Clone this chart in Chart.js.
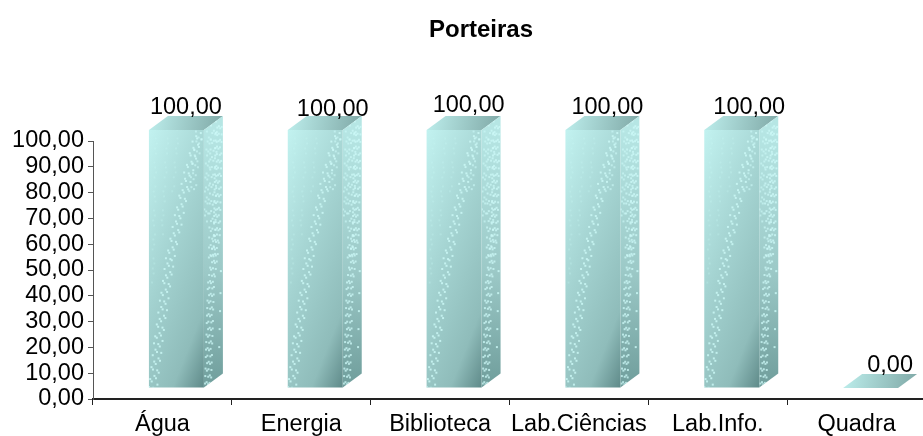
<!DOCTYPE html>
<html>
<head>
<meta charset="utf-8">
<script src="https://cdn.jsdelivr.net/npm/chart.js@4"></script>
<style>
  html, body { margin: 0; padding: 0; background: #fff; overflow: hidden; width: 923px; height: 436px; }
  #wrap { position: relative; width: 926px; height: 436px; }
</style>
</head>
<body>
<div id="wrap"><canvas id="porteirasChart" width="926" height="436"></canvas></div>
<script>
const categories = ['Água', 'Energia', 'Biblioteca', 'Lab.Ciências', 'Lab.Info.', 'Quadra'];
const values = [100, 100, 100, 100, 100, 0];
const yTicks = [0, 10, 20, 30, 40, 50, 60, 70, 80, 90, 100];

const fontFamily = '"Liberation Sans", Arial, sans-serif';
const fmt = v => v.toFixed(2).replace('.', ',');
const barShare = 0.396;

// where the front face sits compared with the category slot, and the depth of the box
const shift = { x: 14, y: -11 };
const depth = { x: 19, y: -14 };
// value labels do not sit quite regular in the original
const labelNudge = [[0, 0], [8, 2], [5, -2], [5, 0], [8, 0], [10, 0]];

const faceGradient = (ctx, x0, y0, x1, y1, stops) => {
  const g = ctx.createLinearGradient(x0, y0, x1, y1);
  stops.forEach(s => g.addColorStop(s[0], s[1]));
  return g;
};

// light speckle running along a line, the way the texture of the original looks
const speckle = (ctx, pts, spread, step, alpha) => {
  ctx.fillStyle = `rgba(205,250,248,${alpha})`;
  let n = 0;
  for (let i = 0; i < pts.length - 1; i++) {
    const [ax, ay] = pts[i];
    const [bx, by] = pts[i + 1];
    const len = Math.hypot(bx - ax, by - ay);
    for (let d = 0; d < len; d += step) {
      const t = d / len;
      const w = ((n * 7) % 5 - 2) / 2 * spread;
      const off = ((n * 3) % 4) - 1.5;
      ctx.fillRect(ax + (bx - ax) * t + w, ay + (by - ay) * t + off, 2, 2);
      n++;
    }
  }
};

const box3d = {
  id: 'box3d',
  beforeDraw(chart) {
    // the padding on the left only centres the title, the tick labels still need that room
    chart.scales.y.left = 0;
  },
  beforeDatasetDraw(chart) {
    chart.ctx.save();
    chart.ctx.translate(shift.x, shift.y);
  },
  afterDatasetDraw(chart) {
    const ctx = chart.ctx;
    const bars = chart.getDatasetMeta(0).data;
    bars.forEach(bar => {
      const left = bar.x - bar.width / 2;
      const right = bar.x + bar.width / 2;
      const top = bar.y;
      const base = bar.base;

      // top face
      ctx.beginPath();
      ctx.moveTo(left, top);
      ctx.lineTo(left + depth.x, top + depth.y);
      ctx.lineTo(right + depth.x, top + depth.y);
      ctx.lineTo(right, top);
      ctx.closePath();
      ctx.fillStyle = faceGradient(ctx, left, top + depth.y, right + depth.x, top, [[0, '#bdeeec'], [1, '#7fa8a6']]);
      ctx.fill();

      if (base - top < 1) return;
      const h = base - top;

      // right face
      ctx.beginPath();
      ctx.moveTo(right, top);
      ctx.lineTo(right + depth.x, top + depth.y);
      ctx.lineTo(right + depth.x, base + depth.y);
      ctx.lineTo(right, base);
      ctx.closePath();
      ctx.fillStyle = faceGradient(ctx, right, top, right + depth.x, base, [[0, '#b6e6e4'], [0.55, '#9cc9c7'], [1, '#6f9d9b']]);
      ctx.fill();

      ctx.save();
      ctx.clip();
      speckle(ctx, [[right + 14, top - 8], [right + 12, top + h * 0.4], [right + 6, top + h * 0.6], [right + 3, base]], 3, 1.7, 0.75);
      speckle(ctx, [[right + 9, top - 4], [right + 7, top + h * 0.5]], 3, 2.2, 0.7);
      speckle(ctx, [[right + 4, top + 2], [right + 1, top + h * 0.35]], 2, 3, 0.6);
      speckle(ctx, [[right + 16, top + h * 0.55], [right + 14, base - 25]], 0, 19, 0.8);
      ctx.restore();

      // band of light dots across the front face, and the faint streaks at the top left
      ctx.save();
      ctx.beginPath();
      ctx.rect(left, top, bar.width, h);
      ctx.clip();
      speckle(ctx, [[left + 3, base], [left + 9, base - h * 0.2], [left + 20, base - h * 0.5], [left + 36, base - h * 0.8], [left + 49, top + 2]], 4, 2.2, 0.8);
      speckle(ctx, [[left + 49, top + 2], [left + 42, top + h * 0.25]], 3, 3, 0.6);
      speckle(ctx, [[left + 6, top], [left + 3, top + h * 0.6]], 1, 6, 0.25);
      speckle(ctx, [[left + 18, top], [left + 12, top + h * 0.4]], 1, 6, 0.25);
      speckle(ctx, [[left + 28, top], [left + 23, top + h * 0.25]], 1, 6, 0.25);
      ctx.restore();
    });
    ctx.restore();

    // value labels above the boxes
    ctx.save();
    ctx.fillStyle = '#000';
    ctx.font = '23.5px ' + fontFamily;
    ctx.textAlign = 'center';
    ctx.textBaseline = 'bottom';
    bars.forEach((bar, i) => {
      const [nx, ny] = labelNudge[i];
      ctx.fillText(fmt(values[i]), bar.x + shift.x + depth.x / 2 + nx, bar.y + shift.y + depth.y + 3 + ny);
    });
    ctx.restore();
  }
};

const frontFace = context => {
  const { chart, dataIndex } = context;
  const xs = chart.scales.x;
  const ys = chart.scales.y;
  if (!xs || !ys || dataIndex === undefined) return '#9fcfcd';
  const cx = xs.getPixelForValue(dataIndex);
  const half = xs.width / categories.length * barShare / 2;
  const top = ys.getPixelForValue(values[dataIndex]);
  if (![cx, half, top].every(Number.isFinite)) return '#9fcfcd';
  return faceGradient(chart.ctx, cx - half, top, cx - half + 136, top + 54, [[0, '#c2f2f0'], [0.45, '#a3d2d0'], [0.8, '#8fbcba'], [1, '#5f8a89']]);
};

const ctx = document.getElementById('porteirasChart').getContext('2d');
new Chart(ctx, {
  type: 'bar',
  data: {
    labels: categories,
    datasets: [{
      data: values,
      backgroundColor: frontFace,
      borderWidth: 0,
      barPercentage: barShare,
      categoryPercentage: 1,
      clip: false
    }]
  },
  plugins: [box3d],
  options: {
    responsive: false,
    animation: false,
    layout: { padding: { left: 36, right: 0, top: 0, bottom: 0 } },
    plugins: {
      legend: { display: false },
      tooltip: { enabled: false },
      title: {
        display: true,
        text: 'Porteiras',
        color: '#000',
        font: { family: fontFamily, size: 24, weight: 'bold', lineHeight: 1.2 },
        padding: { top: 16, bottom: 96.2 }
      }
    },
    scales: {
      x: {
        offset: true,
        afterFit: s => { s.height = 37; },
        grid: { display: true, drawOnChartArea: false, offset: true, tickLength: 6, color: '#222', lineWidth: 1 },
        border: { color: '#222', width: 2 },
        ticks: { color: '#000', font: { family: fontFamily, size: 23.5 }, maxRotation: 0, autoSkip: false, padding: 5 }
      },
      y: {
        min: 0,
        max: 100,
        afterFit: s => { s.width = 57; },
        afterBuildTicks: s => { s.ticks = yTicks.map(v => ({ value: v })); },
        grid: { display: true, drawOnChartArea: false, tickLength: 5, color: '#555', lineWidth: 1 },
        border: { color: '#555', width: 1 },
        ticks: { color: '#000', font: { family: fontFamily, size: 23.5 }, padding: 4, callback: v => fmt(v), autoSkip: false }
      }
    }
  }
});
</script>
</body>
</html>
